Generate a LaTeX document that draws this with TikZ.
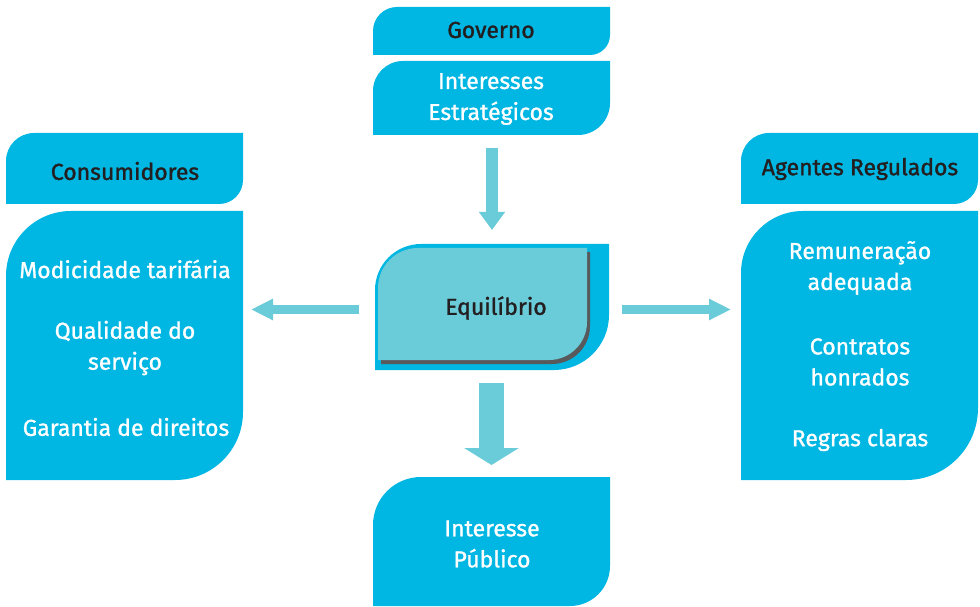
\documentclass[tikz,border=0pt]{standalone}
\usepackage{fontspec}
\setmainfont{Fira Sans}
\newfontfamily\hdrfont{Fira Sans}[RawFeature={embolden=1.4}]
\newfontfamily\bodyfont{Fira Sans}[RawFeature={embolden=1.1}]
\usetikzlibrary{arrows.meta}
\definecolor{leafblue}{HTML}{00B6E2}
\definecolor{arrteal}{HTML}{6ACBD9}
\definecolor{hdrtext}{HTML}{231F20}
\definecolor{shadowgray}{HTML}{58595B}
% #1 style, #2 left, #3 top(px), #4 right, #5 bottom(px), #6 top-left radius, #7 bottom-right radius
\newcommand{\leaf}[7][]{%
  \fill[#1] (#2,{606-(#5)}) -- (#2,{606-(#3)-(#6)})
    arc[start angle=180,end angle=90,radius=#6pt] -- (#4,{606-(#3)})
    -- (#4,{606-(#5)+(#7)})
    arc[start angle=0,end angle=-90,radius=#7pt] -- cycle;}
\tikzset{
  hdr/.style={text=hdrtext, font=\hdrfont\fontsize{23}{31}\selectfont, align=center, inner sep=0pt},
  bodytxt/.style={text=white, font=\bodyfont\fontsize{23}{31}\selectfont, align=center, inner sep=0pt},
  midtxt/.style={text=hdrtext, font=\hdrfont\fontsize{23}{31}\selectfont, align=center, inner sep=0pt},
  thinarrow/.style={draw=arrteal, line width=9pt, -{Triangle[width=20pt,length=22pt]}},
  toparrow/.style={draw=arrteal, line width=12pt, -{Triangle[width=25pt,length=18pt]}},
  fatarrow/.style={draw=arrteal, line width=25pt, -{Triangle[width=54pt,length=17pt]}},
}
\begin{document}
\begin{tikzpicture}[x=1pt,y=1pt]
\useasboundingbox (0,0) rectangle (980,606);
% Governo column
\leaf[leafblue]{373}{7}{610}{55}{24}{20}
\leaf[leafblue]{373}{61}{610}{135}{30}{32}
% Consumidores
\leaf[leafblue]{6}{133}{243}{204}{28}{24}
\leaf[leafblue]{6}{211}{243}{480}{65}{68}
% Agentes Regulados
\leaf[leafblue]{741}{133}{978}{204}{28}{24}
\leaf[leafblue]{741}{211}{978}{480}{62}{72}
% Equilibrio
\leaf[leafblue]{375}{244}{609}{370}{46}{55}
\leaf[shadowgray]{381}{252}{590}{364}{40}{38}
\leaf[arrteal]{378}{248}{587}{360}{40}{38}
% Interesse Publico
\leaf[leafblue]{373}{477}{610}{606}{48}{40}

% texts
\node[hdr] (gov) at (491,576) {Governo};
\node[bodytxt] (estr) at (491,507) {Interesses\\Estratégicos};
\node[hdr] (cons) at (125,435) {Consumidores};
\node[hdr] (agen) at (860,437) {Agentes Regulados};
\node[bodytxt] (cons1) at (125,337) {Modicidade tarifária};
\node[bodytxt] (cons2) at (125,258) {Qualidade do\\serviço};
\node[bodytxt] (cons3) at (126,179) {Garantia de direitos};
\node[bodytxt] (agen1) at (860,338) {Remuneração\\adequada};
\node[bodytxt] (agen2) at (860,244) {Contratos\\honrados};
\node[bodytxt] (agen3) at (860,166) {Regras claras};
\node[midtxt] (equi) at (496,298) {Equilíbrio};
\node[bodytxt] (pub) at (492,62) {Interesse\\Público};

% arrows
\coordinate (topS) at (492,458);
\coordinate (topE) at (492,376);
\coordinate (leftS) at (359,296.5);
\coordinate (leftE) at (251,296.5);
\coordinate (rightS) at (622,296.5);
\coordinate (rightE) at (731,296.5);
\coordinate (botS) at (491.5,223);
\coordinate (botE) at (491.5,141);
\draw[toparrow] (topS) -- (topE);
\draw[thinarrow] (leftS) -- (leftE);
\draw[thinarrow] (rightS) -- (rightE);
\draw[fatarrow] (botS) -- (botE);
\end{tikzpicture}
\end{document}
